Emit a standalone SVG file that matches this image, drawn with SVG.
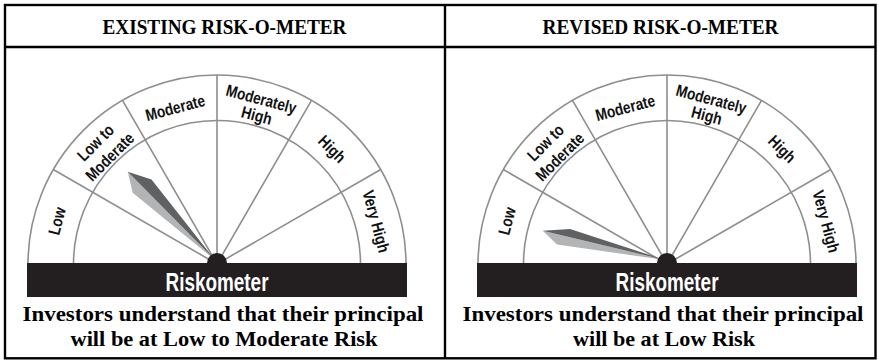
<svg xmlns="http://www.w3.org/2000/svg" width="879" height="361" viewBox="0 0 879 361">
<style>
.frame{fill:none;stroke:#000;stroke-width:2.4}
.rule{stroke:#000;stroke-width:2.4}
.hdr{font-family:"Liberation Serif",serif;font-weight:bold;font-size:21px;fill:#000;text-anchor:middle}
.cap{font-family:"Liberation Serif",serif;font-weight:bold;font-size:21.5px;fill:#000;text-anchor:middle}
.arc{fill:none;stroke:#8e8e8e;stroke-width:1.6}
.lbl{font-family:"Liberation Sans",Arial,sans-serif;font-weight:bold;font-size:16.5px;fill:#111;text-anchor:middle}
.band{fill:#231f20}
.rk{font-family:"Liberation Sans",Arial,sans-serif;font-weight:bold;font-size:25px;fill:#fff;text-anchor:middle}
.ndark{fill:#606163}
.nlight{fill:#b3b4b6}
</style>
<defs>
<g id="dial">
<path class="arc" d="M -189 0 A 189 189 0 0 1 189 0"/>
<path class="arc" d="M -143.5 0 A 143.5 143.5 0 0 1 143.5 0"/>
<path class="arc" d="M 0 0 L 163.7 -94.5 M 0 0 L 94.5 -163.7 M 0 0 L 0 -189 M 0 0 L -94.5 -163.7 M 0 0 L -163.7 -94.5"/>
</g>
</defs>

<g id="table">
<rect class="frame" x="5" y="5" width="870.5" height="353.3"/>
<line class="rule" x1="5" y1="47" x2="875.5" y2="47"/>
<line class="rule" x1="445" y1="5" x2="445" y2="358.3"/>
</g>

<g id="header-existing">
<text class="hdr" x="224.5" y="33.5" textLength="244" lengthAdjust="spacingAndGlyphs">EXISTING RISK-O-METER</text>
</g>
<g id="header-revised">
<text class="hdr" x="660.5" y="33.5" textLength="236" lengthAdjust="spacingAndGlyphs">REVISED RISK-O-METER</text>
</g>

<g id="meter-existing" transform="translate(217,264)">
<use href="#dial"/>
<g>
<text class="lbl" transform="translate(-154.5,-41.4) rotate(-75)" textLength="28" lengthAdjust="spacingAndGlyphs">Low</text>
<text class="lbl" transform="translate(-117.4,-117.4) rotate(-45)" textLength="44" lengthAdjust="spacingAndGlyphs">Low to</text>
<text class="lbl" transform="translate(-103.2,-103.2) rotate(-45)" textLength="61" lengthAdjust="spacingAndGlyphs">Moderate</text>
<text class="lbl" transform="translate(-40.4,-150.7) rotate(-15)" textLength="61" lengthAdjust="spacingAndGlyphs">Moderate</text>
<text class="lbl" transform="translate(42.7,-159.4) rotate(15)" textLength="72" lengthAdjust="spacingAndGlyphs">Moderately</text>
<text class="lbl" transform="translate(38.3,-143) rotate(15)" textLength="31" lengthAdjust="spacingAndGlyphs">High</text>
<text class="lbl" transform="translate(111,-111) rotate(45)" textLength="31" lengthAdjust="spacingAndGlyphs">High</text>
<text class="lbl" transform="translate(153.6,-41.2) rotate(75)" textLength="64" lengthAdjust="spacingAndGlyphs">Very High</text>
</g>
<g id="needle-existing">
<polygon class="nlight" points="-89.3,-92.3 -84.3,-71.3 -2,-4"/>
<polygon class="ndark" points="-89.3,-92.3 -65.5,-84.5 -2,-4"/>
</g>
<rect class="band" x="-190" y="-1" width="380" height="34"/>
<circle class="band" cx="0" cy="-1" r="10"/>
<text class="rk" x="0" y="26.5" textLength="103" lengthAdjust="spacingAndGlyphs">Riskometer</text>
</g>

<g id="meter-revised" transform="translate(667,264)">
<use href="#dial"/>
<g>
<text class="lbl" transform="translate(-154.5,-41.4) rotate(-75)" textLength="28" lengthAdjust="spacingAndGlyphs">Low</text>
<text class="lbl" transform="translate(-117.4,-117.4) rotate(-45)" textLength="44" lengthAdjust="spacingAndGlyphs">Low to</text>
<text class="lbl" transform="translate(-103.2,-103.2) rotate(-45)" textLength="61" lengthAdjust="spacingAndGlyphs">Moderate</text>
<text class="lbl" transform="translate(-40.4,-150.7) rotate(-15)" textLength="61" lengthAdjust="spacingAndGlyphs">Moderate</text>
<text class="lbl" transform="translate(42.7,-159.4) rotate(15)" textLength="72" lengthAdjust="spacingAndGlyphs">Moderately</text>
<text class="lbl" transform="translate(38.3,-143) rotate(15)" textLength="31" lengthAdjust="spacingAndGlyphs">High</text>
<text class="lbl" transform="translate(111,-111) rotate(45)" textLength="31" lengthAdjust="spacingAndGlyphs">High</text>
<text class="lbl" transform="translate(153.6,-41.2) rotate(75)" textLength="64" lengthAdjust="spacingAndGlyphs">Very High</text>
</g>
<g id="needle-revised">
<polygon class="nlight" points="-124.3,-33.3 -110,-19.5 -2,-4"/>
<polygon class="ndark" points="-124.3,-33.3 -97,-35 -2,-4"/>
</g>
<rect class="band" x="-190" y="-1" width="380" height="34"/>
<circle class="band" cx="0" cy="-1" r="10"/>
<text class="rk" x="0" y="26.5" textLength="103" lengthAdjust="spacingAndGlyphs">Riskometer</text>
</g>

<g id="caption-existing">
<text class="cap" x="223" y="321" textLength="401" lengthAdjust="spacingAndGlyphs">Investors understand that their principal</text>
<text class="cap" x="224" y="346" textLength="307" lengthAdjust="spacingAndGlyphs">will be at Low to Moderate Risk</text>
</g>
<g id="caption-revised">
<text class="cap" x="663" y="321" textLength="401" lengthAdjust="spacingAndGlyphs">Investors understand that their principal</text>
<text class="cap" x="664" y="346" textLength="182" lengthAdjust="spacingAndGlyphs">will be at Low Risk</text>
</g>
</svg>
